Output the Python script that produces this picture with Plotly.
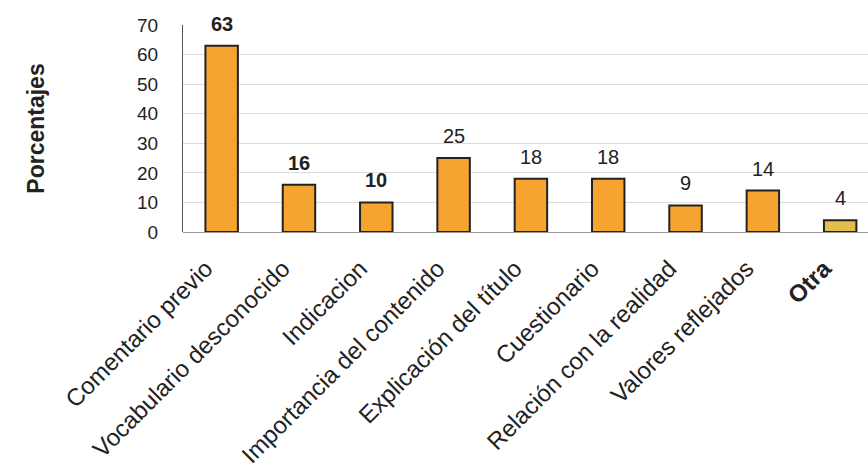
import plotly.graph_objects as go

categorias = [
    "Comentario previo",
    "Vocabulario desconocido",
    "Indicacion",
    "Importancia del contenido",
    "Explicación del título",
    "Cuestionario",
    "Relación con la realidad",
    "Valores reflejados",
    "<b>Otra</b>",
]
porcentajes = [63, 16, 10, 25, 18, 18, 9, 14, 4]
etiquetas = ["<b>63</b>", "<b>16</b>", "<b>10</b>", "25", "18", "18", "9", "14", "4"]
colores = ["#F6A431"] * 8 + ["#E4BE4C"]

fig = go.Figure()
fig.add_trace(go.Bar(
    x=list(range(len(categorias))),
    y=porcentajes,
    width=0.42,
    marker=dict(color=colores, line=dict(color="#222222", width=2)),
    hoverinfo="skip",
))

for i, (v, t) in enumerate(zip(porcentajes, etiquetas)):
    fig.add_annotation(
        x=i, y=v, text=t, showarrow=False, yanchor="bottom", yshift=9,
        font=dict(family="Liberation Sans, Arial, sans-serif", size=20, color="#222222"),
    )

fig.update_layout(
    width=868, height=476,
    margin=dict(l=183, r=0, t=25, b=244),
    paper_bgcolor="white", plot_bgcolor="white",
    showlegend=False,
    font=dict(family="Liberation Sans, Arial, sans-serif", color="#222222"),
)
fig.update_xaxes(
    range=[-0.5, 8.36],
    tickmode="array",
    tickvals=list(range(len(categorias))),
    ticktext=categorias,
    tickangle=-45,
    tickfont=dict(size=24, color="#222222"),
    showline=False, showgrid=False,
    ticks="outside", ticklen=12, tickcolor="rgba(0,0,0,0)",
    ticklabelshift=-16,
)
fig.update_yaxes(
    range=[0, 70],
    dtick=10,
    tickfont=dict(size=19, color="#222222"),
    showgrid=True, gridcolor="#dcdcdc", gridwidth=1,
    zeroline=True, zerolinecolor="#9a9a9a", zerolinewidth=1,
    showline=True, linecolor="#555555", linewidth=1,
    ticks="outside", ticklen=20, tickcolor="rgba(0,0,0,0)",
    title=dict(text="<b>Porcentajes</b>", font=dict(size=23, color="#222222"), standoff=86),
)

fig.write_html("out.html")
